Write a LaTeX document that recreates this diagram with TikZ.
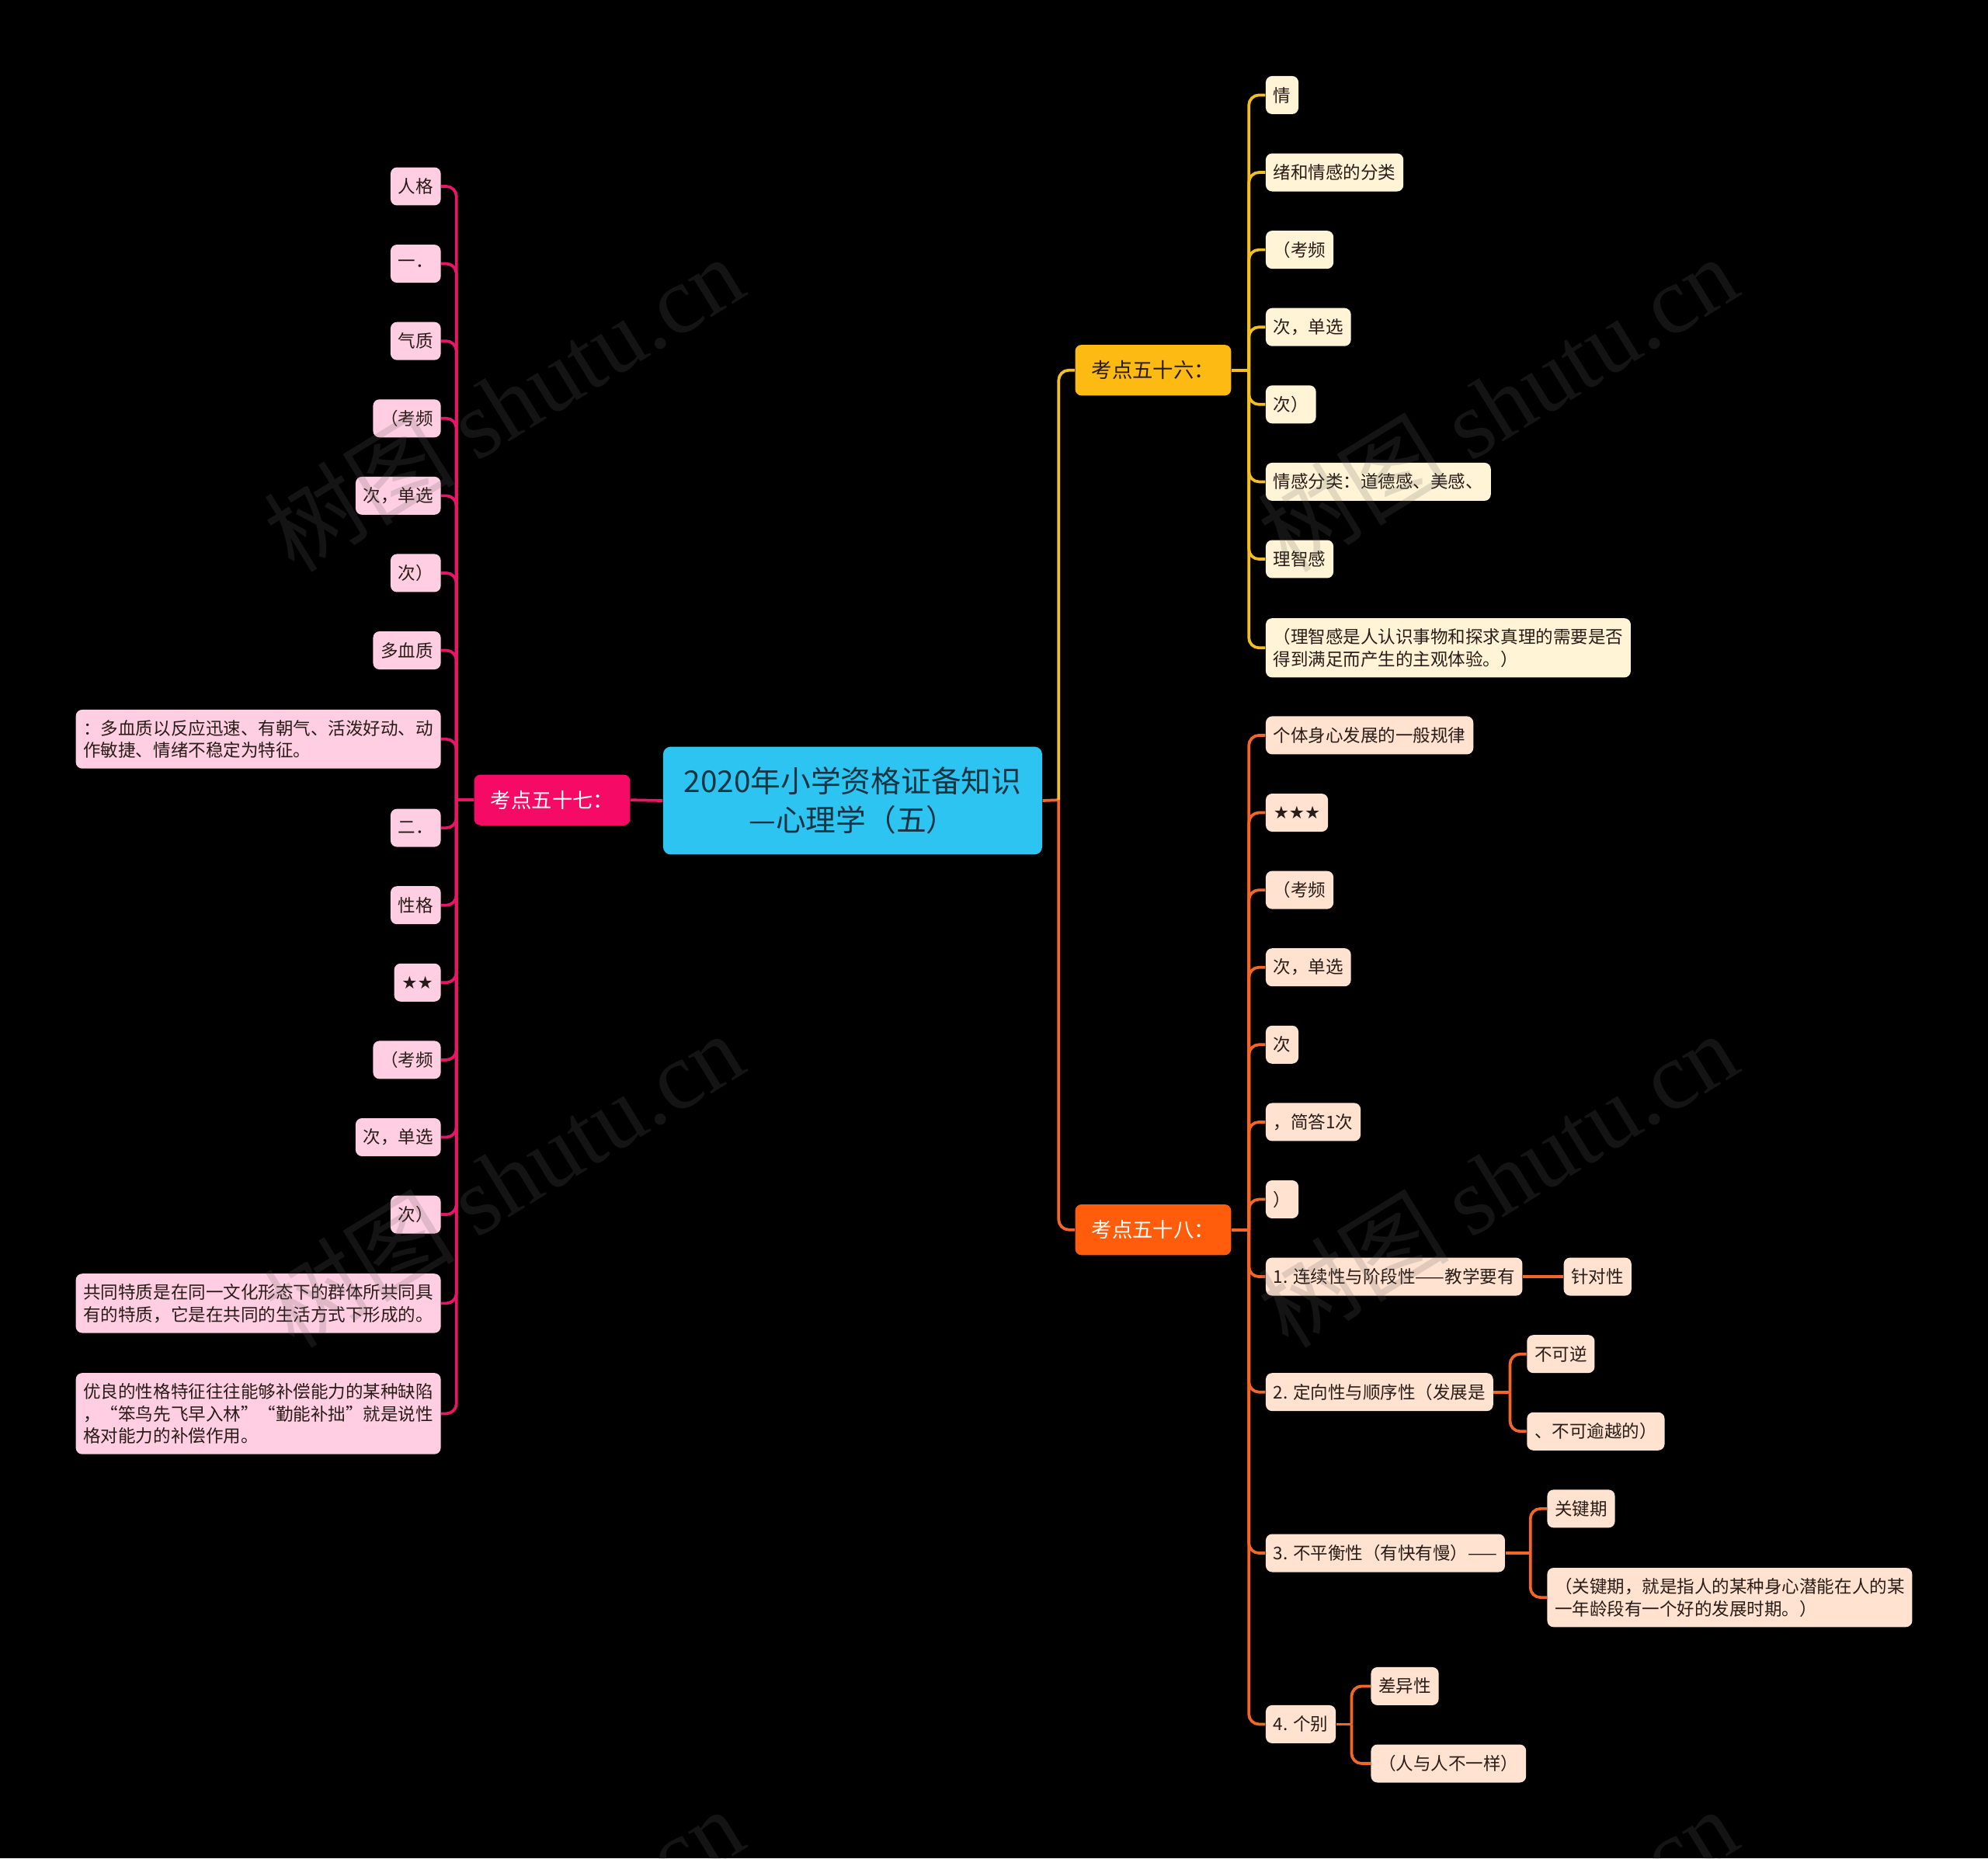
\documentclass[tikz,border=0pt]{standalone}
\usepackage{fontspec}
\setmainfont{Noto Sans CJK SC}
\newfontfamily\symfont{DejaVu Sans}
\newfontfamily\wmfont{Liberation Serif}
\usepackage{tikz}
\definecolor{mycenter}{RGB}{46,196,242}
\definecolor{mycentertext}{RGB}{22,52,66}
\definecolor{mypink}{RGB}{245,10,102}
\definecolor{mypinkline}{RGB}{232,22,104}
\definecolor{mypinkleaf}{RGB}{255,206,226}
\definecolor{myamber}{RGB}{252,186,18}
\definecolor{myamberline}{RGB}{242,190,34}
\definecolor{mycream}{RGB}{255,245,214}
\definecolor{myorange}{RGB}{255,92,12}
\definecolor{myorangeline}{RGB}{242,102,40}
\definecolor{mypeach}{RGB}{255,226,208}
\definecolor{myleaftext}{RGB}{40,28,24}
\definecolor{mywatermark}{RGB}{100,100,100}

\begin{document}
\begin{tikzpicture}[x=0.02cm,y=-0.02cm,
  leaf/.style={rounded corners=0.1cm,inner xsep=0.12cm,inner ysep=0.16cm,minimum height=0.6cm,align=left,text=myleaftext,font=\fontsize{7.85}{10}\selectfont},
  pleaf/.style={leaf,fill=mypinkleaf,anchor=east},
  yleaf/.style={leaf,fill=mycream,anchor=west},
  oleaf/.style={leaf,fill=mypeach,anchor=west},
  topic/.style={rounded corners=0.1cm,minimum width=2.46cm,minimum height=0.8cm,font=\fontsize{9.2}{11}\selectfont},
  pline/.style={mypinkline,line width=1.3pt,rounded corners=0.16cm},
  yline/.style={myamberline,line width=1.3pt,rounded corners=0.16cm},
  oline/.style={myorangeline,line width=1.3pt,rounded corners=0.16cm}]
  \fill[black] (0,0) rectangle (1568,1466);
  \useasboundingbox (0,0) rectangle (1568,1466);
  \node[fill=mycenter,text=mycentertext,rounded corners=0.12cm,minimum width=5.98cm,minimum height=1.7cm,align=center,font=\fontsize{13.5}{17.6}\selectfont] (root) at (672.5,631.5) {2020年小学资格证备知识\\—心理学（五）};
  \node[topic,fill=mypink,text=white] (k57) at (435.5,631) {考点五十七：};
  \node[topic,fill=myamber,text=myleaftext] (k56) at (909.5,292) {考点五十六：};
  \node[topic,fill=myorange,text=white] (k58) at (909.5,970) {考点五十八：};
  \coordinate (sc) at (835,631);
  \coordinate (s57) at (360,631);
  \coordinate (s56) at (985,292);
  \coordinate (s58) at (985,970);
  \draw[pline] (root.west) -- (k57.east);
  \draw[oline] (root.east) -- (sc);
  \draw[yline] (sc) |- (k56.west);
  \draw[oline] (sc) |- (k58.west);
  \draw[pline] (k57.west) -- (s57);
  \draw[yline] (k56.east) -- (s56);
  \draw[oline] (k58.east) -- (s58);

  \node[pleaf] (p1) at (348,147) {人格};
  \node[pleaf] (p2) at (348,208) {一．};
  \node[pleaf] (p3) at (348,269) {气质};
  \node[pleaf] (p4) at (348,330) {（考频};
  \node[pleaf] (p5) at (348,391) {次，单选};
  \node[pleaf] (p6) at (348,452) {次）};
  \node[pleaf] (p7) at (348,513) {多血质};
  \node[pleaf] (p8) at (348,583) {：多血质以反应迅速、有朝气、活泼好动、动\\作敏捷、情绪不稳定为特征。};
  \node[pleaf] (p9) at (348,653) {二．};
  \node[pleaf] (p10) at (348,714) {性格};
  \node[pleaf] (p11) at (348,775) {{\symfont ★★}};
  \node[pleaf] (p12) at (348,836) {（考频};
  \node[pleaf] (p13) at (348,897) {次，单选};
  \node[pleaf] (p14) at (348,958) {次）};
  \node[pleaf] (p15) at (348,1028) {共同特质是在同一文化形态下的群体所共同具\\有的特质，它是在共同的生活方式下形成的。};
  \node[pleaf] (p16) at (348,1115) {优良的性格特征往往能够补偿能力的某种缺陷\\，“笨鸟先飞早入林”“勤能补拙”就是说性\\格对能力的补偿作用。};
  \foreach \i in {1,...,16}
    \draw[pline] (s57) |- (p\i.east);

  \node[yleaf] (y1) at (998,75) {情};
  \node[yleaf] (y2) at (998,136) {绪和情感的分类};
  \node[yleaf] (y3) at (998,197) {（考频};
  \node[yleaf] (y4) at (998,258) {次，单选};
  \node[yleaf] (y5) at (998,319) {次）};
  \node[yleaf] (y6) at (998,380) {情感分类：道德感、美感、};
  \node[yleaf] (y7) at (998,441) {理智感};
  \node[yleaf] (y8) at (998,511) {（理智感是人认识事物和探求真理的需要是否\\得到满足而产生的主观体验。）};
  \foreach \i in {1,...,8}
    \draw[yline] (s56) |- (y\i.west);

  \node[oleaf] (o1) at (998,580) {个体身心发展的一般规律};
  \node[oleaf] (o2) at (998,641) {{\symfont ★★★}};
  \node[oleaf] (o3) at (998,702) {（考频};
  \node[oleaf] (o4) at (998,763) {次，单选};
  \node[oleaf] (o5) at (998,824) {次};
  \node[oleaf] (o6) at (998,885) {，简答1次};
  \node[oleaf] (o7) at (998,946) {）};
  \node[oleaf] (o8) at (998,1007) {1. 连续性与阶段性——教学要有};
  \node[oleaf] (o9) at (998,1098) {2. 定向性与顺序性（发展是};
  \node[oleaf] (o10) at (998,1225) {3. 不平衡性（有快有慢）——};
  \node[oleaf] (o11) at (998,1360) {4. 个别};
  \foreach \i in {1,...,11}
    \draw[oline] (s58) |- (o\i.west);

  \node[oleaf] (d1) at (1233,1007) {针对性};
  \draw[oline] (o8.east) -- (d1.west);
  \coordinate (s2) at (1191,1098);
  \node[oleaf] (e1) at (1204,1068) {不可逆};
  \node[oleaf] (e2) at (1204,1129) {、不可逾越的）};
  \draw[oline] (o9.east) -- (s2);
  \draw[oline] (s2) |- (e1.west);
  \draw[oline] (s2) |- (e2.west);
  \coordinate (s3) at (1207,1225);
  \node[oleaf] (f1) at (1220,1190) {关键期};
  \node[oleaf] (f2) at (1220,1260) {（关键期，就是指人的某种身心潜能在人的某\\一年龄段有一个好的发展时期。）};
  \draw[oline] (o10.east) -- (s3);
  \draw[oline] (s3) |- (f1.west);
  \draw[oline] (s3) |- (f2.west);
  \coordinate (s4) at (1066,1360);
  \node[oleaf] (g1) at (1081,1330) {差异性};
  \node[oleaf] (g2) at (1081,1391) {（人与人不一样）};
  \draw[oline] (o11.east) -- (s4);
  \draw[oline] (s4) |- (g1.west);
  \draw[oline] (s4) |- (g2.west);

  \begin{scope}
    \clip (0,0) rectangle (1568,1466);
    \foreach \wx in {397,1181}
      \foreach \wy in {318,930,1542}
        \node[rotate=31.6,text=mywatermark,opacity=0.2,font=\fontsize{43}{43}\selectfont] (wm) at (\wx,\wy) {树图 {\wmfont shutu.cn}};
  \end{scope}
\end{tikzpicture}
\end{document}
